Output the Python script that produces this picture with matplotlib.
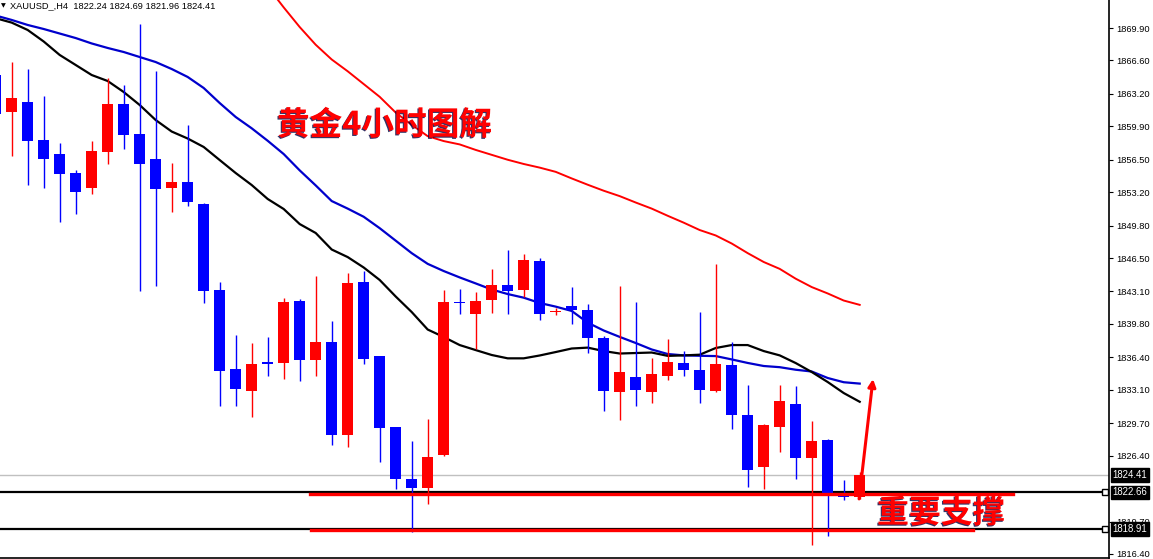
import numpy as np
import matplotlib
matplotlib.use("Agg")
import matplotlib.pyplot as plt
import matplotlib.patheffects as pe

plt.rcParams["font.family"] = ["Liberation Sans", "Noto Sans CJK SC", "DejaVu Sans"]

# XAUUSD H4 candles, index -1 is the bar cut off at the left edge
opens = [1865.1, 1861.4, 1862.4, 1858.5, 1857.1, 1855.2, 1853.6, 1857.3, 1862.2, 1859.1,
         1856.6, 1853.6, 1854.2, 1852.0, 1843.3, 1835.2, 1833.0, 1835.9, 1835.8, 1842.1,
         1836.1, 1838.0, 1828.5, 1844.1, 1836.5, 1829.3, 1824.0, 1823.1, 1826.5, 1842.0,
         1840.8, 1842.2, 1843.8, 1843.3, 1846.2, 1841.0, 1841.6, 1841.2, 1838.4, 1832.9,
         1834.4, 1832.9, 1834.5, 1835.8, 1835.1, 1833.0, 1835.6, 1830.5, 1825.2, 1829.3,
         1831.7, 1826.2, 1828.0, 1822.6, 1822.24]
highs = [1866.0, 1866.4, 1865.7, 1863.0, 1858.2, 1855.5, 1858.4, 1864.8, 1864.1, 1870.3,
         1865.5, 1856.2, 1860.0, 1852.1, 1844.1, 1838.7, 1837.9, 1838.5, 1842.4, 1842.3,
         1844.7, 1840.1, 1845.0, 1845.2, 1836.5, 1829.3, 1827.9, 1830.1, 1843.3, 1843.4,
         1843.0, 1845.4, 1847.3, 1846.9, 1846.5, 1841.4, 1843.6, 1841.8, 1838.6, 1843.7,
         1842.0, 1836.3, 1838.3, 1837.0, 1841.0, 1845.9, 1838.0, 1833.6, 1829.6, 1833.6,
         1833.5, 1829.9, 1828.1, 1823.9, 1824.69]
lows = [1860.0, 1856.9, 1853.9, 1853.6, 1850.2, 1851.0, 1853.0, 1856.1, 1857.6, 1843.1,
        1843.7, 1851.2, 1851.8, 1841.9, 1831.5, 1831.5, 1830.3, 1834.5, 1834.2, 1834.0,
        1834.5, 1827.5, 1827.3, 1835.7, 1825.8, 1823.0, 1818.6, 1821.5, 1826.4, 1840.8,
        1837.2, 1840.9, 1840.8, 1842.5, 1840.2, 1840.7, 1839.8, 1836.8, 1830.9, 1830.0,
        1831.5, 1831.8, 1834.1, 1834.5, 1831.8, 1832.9, 1829.1, 1823.2, 1823.0, 1826.8,
        1824.0, 1817.3, 1818.2, 1821.9, 1821.96]
closes = [1861.2, 1862.8, 1858.4, 1856.6, 1855.0, 1853.2, 1857.4, 1862.2, 1859.0, 1856.1,
          1853.5, 1854.2, 1852.2, 1843.2, 1835.0, 1833.2, 1835.7, 1835.7, 1842.0, 1836.1,
          1838.0, 1828.5, 1844.0, 1836.2, 1829.2, 1824.0, 1823.1, 1826.3, 1842.0, 1841.9,
          1842.1, 1843.8, 1843.2, 1846.3, 1840.8, 1841.1, 1841.2, 1838.4, 1833.0, 1834.9,
          1833.1, 1834.7, 1835.9, 1835.1, 1833.1, 1835.7, 1830.5, 1824.9, 1829.5, 1832.0,
          1826.2, 1827.9, 1822.6, 1822.2, 1824.41]

# moving averages
nan = np.nan
ma_red = [nan] * 17 + [1874.1, 1872.0, 1870.0, 1868.2, 1866.7, 1865.5, 1864.2, 1862.9, 1861.3,
                       1860.05, 1858.9, 1858.4, 1858.06, 1857.5, 1857.0, 1856.5, 1856.07, 1855.7,
                       1855.27, 1854.6, 1853.96, 1853.35, 1852.8, 1852.15, 1851.53, 1850.8,
                       1850.1, 1849.35, 1848.8, 1847.98, 1847.0, 1846.1, 1845.4, 1844.4,
                       1843.55, 1842.9, 1842.18, 1841.74]
ma_blue = [1871.17, 1870.72, 1870.21, 1869.8, 1869.34, 1868.88, 1868.33, 1867.87, 1867.46,
           1866.95, 1866.44, 1865.73, 1864.92, 1863.8, 1862.27, 1860.85, 1859.7, 1858.43,
           1857.08, 1855.42, 1853.89, 1852.3, 1851.53, 1850.7, 1849.54, 1848.27, 1847.0,
           1845.91, 1845.18, 1844.53, 1843.92, 1843.3, 1842.84, 1842.47, 1841.93, 1841.56,
           1841.12, 1839.93, 1839.13, 1838.48, 1837.86, 1837.2, 1836.74, 1836.6, 1836.56,
           1836.53, 1836.19, 1835.83, 1835.52, 1835.4, 1835.14, 1834.96, 1834.3, 1833.87,
           1833.73]
ma_black = [1870.9, 1870.45, 1869.7, 1868.53, 1867.16, 1866.14, 1865.12, 1864.51, 1863.39,
            1862.07, 1860.54, 1859.37, 1858.66, 1857.8, 1856.47, 1855.15, 1853.93, 1852.51,
            1851.49, 1849.96, 1849.05, 1847.37, 1846.6, 1845.54, 1844.27, 1842.59, 1841.01,
            1839.23, 1838.47, 1837.65, 1837.14, 1836.64, 1836.3, 1836.3, 1836.59, 1836.94,
            1837.3, 1837.39, 1837.04, 1836.79, 1836.84, 1836.89, 1836.55, 1836.6, 1836.67,
            1837.35, 1837.65, 1837.65, 1837.04, 1836.6, 1835.82, 1834.91, 1833.89, 1832.77,
            1831.88]

tick_prices = [1869.90, 1866.60, 1863.20, 1859.90, 1856.50, 1853.20, 1849.80, 1846.50,
               1843.10, 1839.80, 1836.40, 1833.10, 1829.70, 1826.40, 1819.70, 1816.40]
bid_price = 1824.41
support_levels = [1822.66, 1818.91]
header = "XAUUSD_,H4  1822.24 1824.69 1821.96 1824.41"

o = np.array(opens)
h = np.array(highs)
l = np.array(lows)
c = np.array(closes)
x = np.arange(len(o)) - 1

fig = plt.figure(figsize=(11.53, 5.59), dpi=100)
ax = fig.add_axes([0, 1 / 559, 1109 / 1153, 558 / 559])

up = c >= o
colors = np.where(up, "#ff0000", "#0000ff")

# wicks and bodies
ax.vlines(x, l, h, colors=colors, linewidth=1.0, zorder=3)
body_low = np.minimum(o, c)
body_h = np.maximum(np.abs(c - o), 0.15)
ax.bar(x, body_h, bottom=body_low, width=0.69, color=colors, linewidth=0, zorder=3)

# moving averages
ax.plot(x, ma_red, color="#ff0000", linewidth=1.4, zorder=2)
ax.plot(x, ma_blue, color="#0000cc", linewidth=1.6, zorder=2)
ax.plot(x, ma_black, color="black", linewidth=1.6, zorder=2)

# price lines
ax.axhline(bid_price, color="#c0c0c0", linewidth=1.0, zorder=1)
for lvl in support_levels:
    ax.axhline(lvl, color="black", linewidth=1.6, zorder=1)
    ax.plot([68.35], [lvl], marker="s", markersize=4, markerfacecolor="white",
            markeredgecolor="black", markeredgewidth=1.0, zorder=4, clip_on=False)

# hand drawn support lines and arrow
ax.plot([18.64, 62.58], [1822.5, 1822.5], color="#ff0000", linewidth=2.4, zorder=4)
ax.plot([18.70, 60.08], [1818.8, 1818.8], color="#ff0000", linewidth=2.4, zorder=4)
ax.annotate("", xy=(53.83, 1834.2), xytext=(52.96, 1822.0),
            arrowprops=dict(arrowstyle="-|>", color="#ff0000", lw=2.2,
                            mutation_scale=11, shrinkA=0, shrinkB=0), zorder=5)

shadow = [pe.withSimplePatchShadow(offset=(-0.8, -0.8), shadow_rgbFace="#000040", alpha=0.8)]
ax.text(16.58, 1860.0, "黄金4小时图解", family=["Noto Sans CJK SC"], fontsize=23.5,
        fontweight="bold", color="#ff0000", ha="left", va="center", zorder=6,
        path_effects=shadow)
ax.text(54.08, 1820.5, "重要支撑", family=["Noto Sans CJK SC"], fontsize=23,
        fontweight="bold", color="#ff0000", ha="left", va="center", zorder=6,
        path_effects=shadow)

# header
fig.text(1 / 1153, 1 - 6 / 559, "▼", family=["DejaVu Sans"], fontsize=4.5, va="center",
         ha="left")
fig.text(10 / 1153, 1 - 6 / 559, header, fontsize=6.7, va="center", ha="left")

ax.set_xlim(-0.73, 68.58)
ax.set_ylim(1815.99, 1872.75)

ax.spines["top"].set_visible(False)
ax.spines["left"].set_visible(False)
ax.spines["right"].set_linewidth(1.2)
ax.spines["bottom"].set_linewidth(1.2)
ax.set_xticks([])
ax.yaxis.tick_right()
ax.set_yticks(tick_prices)
ax.set_yticklabels([f"{p:.2f}" for p in tick_prices])
ax.tick_params(axis="y", length=3, width=0.8, pad=2, labelsize=6.7)

# price boxes on the scale
for p in [bid_price] + support_levels:
    ax.annotate(f"{p:.2f}", xy=(1, p), xycoords=("axes fraction", "data"),
                xytext=(2.5, 0), textcoords="offset points", va="center", ha="left",
                color="white", fontsize=6.9, annotation_clip=False, zorder=7,
                bbox=dict(boxstyle="square,pad=0.2", fc="black", ec="black"))

plt.savefig("out.png", dpi=100)
plt.close()
